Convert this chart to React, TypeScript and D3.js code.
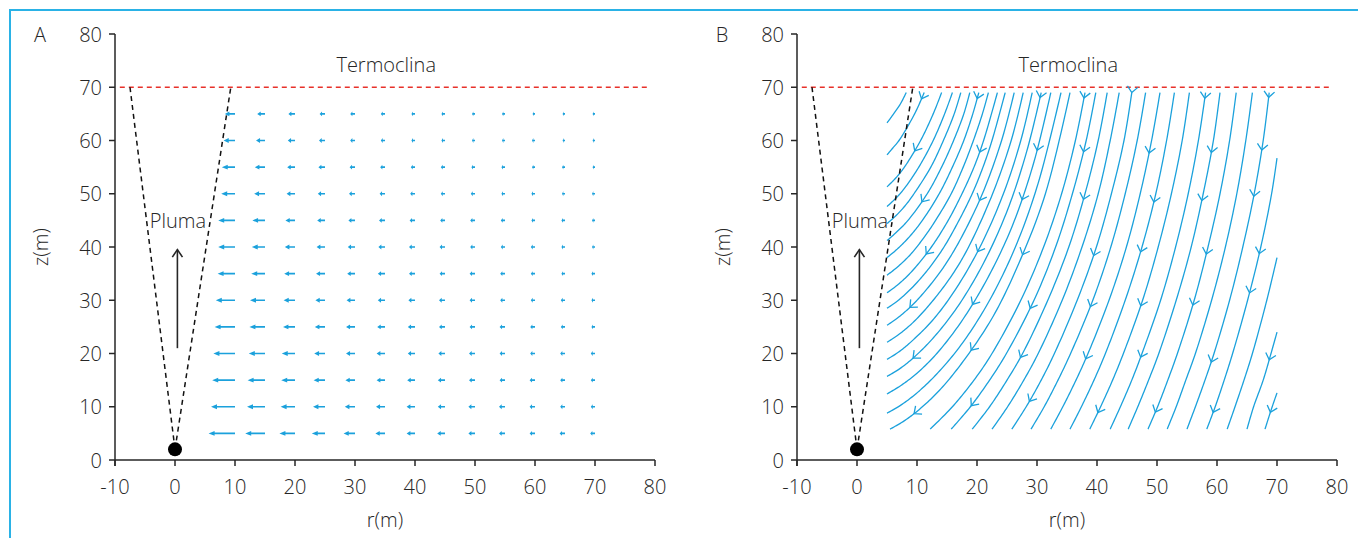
import React from 'react';
import * as d3 from 'd3';

// axes
const rTicks = [-10, 0, 10, 20, 30, 40, 50, 60, 70, 80];
const zTicks = [0, 10, 20, 30, 40, 50, 60, 70, 80];

// plume geometry (data units, r and z in m)
const thermoclineZ = 70;
const thermoclineExtent = [-9.2, 79.3];
const plumeSource: [number, number] = [0, 2];
const plumeEdgeTops: [number, number][] = [[-7.5, 70], [9.3, 70]];
const plumeArrow = { r: 0.4, zFrom: 21, zTo: 39.5 };

// panel A : horizontal entrainment velocity (arrow length in r units), tails at quiverR
const quiverR = [10, 15, 20, 25, 30, 35, 40, 45, 50, 55, 60, 65, 70];
const quiverZ = [5, 10, 15, 20, 25, 30, 35, 40, 45, 50, 55, 60, 65];
const quiverU = [
  [4.4, 3.3, 2.6, 2.2, 1.9, 1.6, 1.4, 1.3, 1.1, 1.0, 0.9, 0.9, 0.8],
  [4.0, 3.0, 2.4, 2.0, 1.7, 1.5, 1.4, 1.2, 1.1, 1.0, 0.9, 0.8, 0.7],
  [3.8, 2.9, 2.3, 1.9, 1.6, 1.4, 1.3, 1.2, 1.0, 0.9, 0.9, 0.8, 0.7],
  [3.6, 2.7, 2.2, 1.8, 1.5, 1.4, 1.2, 1.1, 1.0, 0.9, 0.8, 0.8, 0.7],
  [3.4, 2.6, 2.0, 1.7, 1.5, 1.3, 1.2, 1.0, 0.9, 0.9, 0.8, 0.7, 0.6],
  [3.2, 2.5, 1.9, 1.6, 1.4, 1.2, 1.1, 1.0, 0.9, 0.8, 0.7, 0.7, 0.6],
  [2.9, 2.3, 1.8, 1.5, 1.3, 1.2, 1.0, 0.9, 0.9, 0.8, 0.7, 0.6, 0.6],
  [2.8, 2.2, 1.7, 1.4, 1.2, 1.1, 1.0, 0.9, 0.8, 0.7, 0.7, 0.6, 0.5],
  [2.8, 2.1, 1.6, 1.3, 1.1, 1.0, 0.9, 0.8, 0.8, 0.7, 0.6, 0.6, 0.5],
  [2.3, 1.8, 1.4, 1.2, 1.0, 0.9, 0.8, 0.7, 0.7, 0.6, 0.6, 0.5, 0.5],
  [2.2, 1.7, 1.3, 1.1, 0.9, 0.8, 0.7, 0.7, 0.6, 0.6, 0.5, 0.5, 0.4],
  [1.9, 1.5, 1.2, 1.0, 0.8, 0.7, 0.6, 0.6, 0.5, 0.5, 0.5, 0.4, 0.4],
  [1.7, 1.3, 1.1, 0.9, 0.8, 0.7, 0.6, 0.6, 0.5, 0.5, 0.4, 0.4, 0.4],
];

// panel B : streamlines [r, z]
const streamlines: [number, number][][] = [
  [[5, 63.3], [6.1, 65], [7.3, 67], [8.2, 69]],
  [[5, 57.3], [5.9, 58.5], [7.0, 60], [9.6, 65], [11.2, 69]],
  [[5, 51.3], [6.5, 53], [7.9, 55], [10.6, 60], [12.7, 65], [14.1, 69]],
  [[5, 47.6], [6.6, 49.3], [7.9, 51], [10.3, 55], [12.7, 60], [14.6, 65], [15.9, 69]],
  [[5, 44.4], [6.6, 46], [8.2, 48], [9.5, 50], [12.3, 55], [14.4, 60], [16.2, 65], [17.3, 69]],
  [[5, 41.2], [6.6, 42.8], [8.5, 45], [11.7, 50], [14.1, 55], [16.1, 60], [17.8, 65], [18.8, 69]],
  [[5, 38], [6.7, 39.6], [8.8, 42], [10.9, 45], [13.7, 50], [15.9, 55], [17.8, 60], [19.3, 65], [20.3, 69]],
  [[5, 34.7], [6.8, 36.3], [9.0, 38.7], [11.3, 42], [13.1, 45], [15.7, 50], [17.7, 55], [19.4, 60], [20.9, 65], [21.9, 69]],
  [[5, 31.4], [6.9, 33], [9.2, 35.5], [12.4, 40], [15.2, 45], [17.5, 50], [19.5, 55], [21.1, 60], [23.4, 69]],
  [[5, 28.5], [6.9, 30], [9.3, 32.5], [12.0, 36], [14.5, 40], [17.0, 45], [19.2, 50], [21.0, 55], [22.5, 60], [24.7, 69]],
  [[5, 25.3], [6.9, 26.8], [9.4, 29.3], [12.3, 33], [14.9, 37], [17.5, 42], [20.9, 50], [24.1, 60], [26.2, 69]],
  [[5, 22.1], [7.0, 23.6], [9.5, 26], [12.7, 30], [16.0, 35], [18.6, 40], [22.6, 50], [25.7, 60], [27.7, 69]],
  [[5, 18.9], [7.1, 20.4], [9.6, 22.8], [12.8, 26.5], [16.4, 32], [20.5, 40], [24.4, 50], [27.3, 60], [29.2, 69]],
  [[5, 15.7], [7.2, 17.2], [9.8, 19.6], [13.0, 23.3], [16.9, 29], [21.1, 37], [25.1, 47], [28.3, 58], [30.7, 69]],
  [[5, 12.4], [7.2, 13.9], [10.0, 16.3], [13.3, 20], [17.4, 26], [21.7, 34], [25.9, 44], [29.5, 56], [32.3, 69]],
  [[5, 8.8], [7.3, 10.3], [10.1, 12.7], [13.5, 16.4], [17.6, 22], [22.1, 30], [26.4, 40], [30.2, 52], [34.0, 69]],
  [[5.5, 5.8], [7.8, 7.3], [10.6, 9.7], [14.0, 13.4], [18.0, 19], [22.7, 27], [27.0, 37], [31.4, 50], [35.5, 69]],
  [[12.2, 5.8], [15.9, 10], [19.5, 15], [22.5, 20], [27.3, 30], [31.1, 40], [34.1, 50], [36.4, 60], [38.0, 69]],
  [[15.7, 5.8], [18.9, 10], [22.1, 15], [24.9, 20], [29.5, 30], [33.1, 40], [35.9, 50], [38.2, 60], [39.8, 69]],
  [[19.2, 5.8], [22.1, 10], [25.0, 15], [27.6, 20], [31.8, 30], [35.3, 40], [38.0, 50], [40.2, 60], [41.7, 69]],
  [[22.5, 5.8], [25.1, 10], [27.8, 15], [30.2, 20], [34.2, 30], [37.5, 40], [40.2, 50], [42.2, 60], [43.7, 69]],
  [[25.8, 5.8], [28.2, 10], [30.7, 15], [32.9, 20], [36.7, 30], [39.9, 40], [42.4, 50], [44.5, 60], [45.8, 69]],
  [[29, 5.8], [31.2, 10], [33.5, 15], [35.6, 20], [39.3, 30], [42.3, 40], [44.7, 50], [46.7, 60], [48.1, 69]],
  [[32.3, 5.8], [34.3, 10], [36.5, 15], [38.5, 20], [42.0, 30], [44.9, 40], [47.2, 50], [49.1, 60], [50.5, 69]],
  [[35.5, 5.8], [37.4, 10], [39.5, 15], [41.4, 20], [44.7, 30], [47.5, 40], [49.8, 50], [51.6, 60], [52.9, 69]],
  [[38.8, 5.8], [40.6, 10], [42.6, 15], [44.4, 20], [47.6, 30], [50.2, 40], [52.4, 50], [54.2, 60], [55.4, 69]],
  [[42.2, 5.8], [43.9, 10], [45.8, 15], [47.5, 20], [50.6, 30], [53.1, 40], [55.2, 50], [56.9, 60], [58.1, 69]],
  [[45.2, 5.8], [46.8, 10], [48.6, 15], [50.3, 20], [53.2, 30], [55.7, 40], [57.7, 50], [59.4, 60], [60.5, 69]],
  [[48.5, 5.8], [50.1, 10], [51.8, 15], [53.4, 20], [56.2, 30], [58.5, 40], [60.5, 50], [62.1, 60], [63.2, 69]],
  [[51.7, 5.8], [53.2, 10], [54.8, 15], [56.4, 20], [59.1, 30], [61.4, 40], [63.3, 50], [64.8, 60], [65.9, 69]],
  [[55, 5.8], [56.4, 10], [58.0, 15], [59.5, 20], [62.1, 30], [64.3, 40], [66.2, 50], [67.7, 60], [68.7, 69]],
  [[58.3, 5.8], [59.7, 10], [61.2, 15], [62.6, 20], [65.1, 30], [67.3, 40], [69.1, 50], [70, 56.7]],
  [[61.7, 5.8], [63.0, 10], [64.5, 15], [65.9, 20], [68.3, 30], [70, 38]],
  [[65, 5.8], [66.1, 10], [67.7, 15], [69.0, 20], [70, 24]],
  [[68, 5.8], [69.2, 10], [70, 12.6]],
];

// arrowheads along the streamlines [r, z]
const streamArrows: [number, number][] = [
  [10.8, 67.8], [20.3, 67.8], [30.8, 68], [37.7, 68], [46.8, 69], [57.5, 68], [69.2, 68],
  [10, 57.8], [20.5, 57.8], [30.2, 58.1], [38, 57.8], [48, 57.8], [58.8, 57.8], [68, 58.1],
  [10.8, 48.5], [20.5, 48.7], [28, 48.7], [38.5, 48.7], [49.2, 48.5], [57.5, 48.7], [66.8, 49.4],
  [11.3, 38.9], [20.5, 38.9], [27.7, 38.5], [39.2, 38.5], [47.2, 39.1], [58.8, 38.5], [68, 38.5],
  [9.2, 28.2], [20, 28.7], [28.5, 28.7], [39.2, 28.7], [48, 28.7], [57.2, 28.7], [66.7, 31],
  [9.3, 19.2], [18.3, 21.2], [28, 18.8], [39.3, 18.4], [48.5, 18.8], [58, 18.8], [67.5, 19.2],
  [9.3, 9], [18.5, 10.7], [28.3, 11.3], [40, 9], [49.7, 9], [59.2, 9], [68.8, 9],
];

const W = 1358;
const H = 538;
const FONT = "'Open Sans', 'Noto Sans', sans-serif";
const FS = 20;
const INK = '#262626';
const BLUE = '#1ba1dc';

const zScale = d3.scaleLinear().domain([0, 80]).range([460, 34]);

// sample a catmull-rom curve into a dense polyline
function sampleCurve(pts: [number, number][]) {
  const out: [number, number][] = [];
  let cx = 0, cy = 0;
  const ctx: any = {
    moveTo(x: number, y: number) { out.push([x, y]); cx = x; cy = y; },
    lineTo(x: number, y: number) { out.push([x, y]); cx = x; cy = y; },
    bezierCurveTo(x1: number, y1: number, x2: number, y2: number, x: number, y: number) {
      for (let i = 1; i <= 14; i++) {
        const t = i / 14, m = 1 - t;
        out.push([
          m * m * m * cx + 3 * m * m * t * x1 + 3 * m * t * t * x2 + t * t * t * x,
          m * m * m * cy + 3 * m * m * t * y1 + 3 * m * t * t * y2 + t * t * t * y,
        ]);
      }
      cx = x; cy = y;
    },
    closePath() {},
  };
  d3.line().curve(d3.curveCatmullRom.alpha(0.5)).context(ctx)(pts);
  return out;
}

function chevron(px: number, py: number, dx: number, dy: number, len: number, ang: number) {
  const bx = -dx, by = -dy;
  const rot = (a: number) => [bx * Math.cos(a) - by * Math.sin(a), bx * Math.sin(a) + by * Math.cos(a)];
  const [ax, ay] = rot(ang);
  const [cx, cy] = rot(-ang);
  return `M${px + ax * len},${py + ay * len}L${px},${py}L${px + cx * len},${py + cy * len}`;
}

function Label(props: any) {
  return (
    <text dominantBaseline="central" fontSize={FS} fontFamily={FONT} fontWeight={300} fill={INK} {...props} />
  );
}

function Panel({ left, label, kind }: { left: number; label: string; kind: 'quiver' | 'stream' }) {
  const rScale = d3.scaleLinear().domain([-10, 80]).range([left, left + 540]);
  const y0 = zScale(0);

  const plume = (
    <g>
      {plumeEdgeTops.map((p, i) => (
        <line key={i} x1={rScale(plumeSource[0])} y1={zScale(plumeSource[1])} x2={rScale(p[0])} y2={zScale(p[1])}
          stroke="#111" strokeWidth={1.5} strokeDasharray="5,4" />
      ))}
      <circle cx={rScale(plumeSource[0])} cy={zScale(plumeSource[1])} r={7} fill="#000" />
      <line x1={rScale(plumeArrow.r)} y1={zScale(plumeArrow.zFrom)} x2={rScale(plumeArrow.r)} y2={zScale(plumeArrow.zTo)}
        stroke={INK} strokeWidth={1.6} />
      <path d={chevron(rScale(plumeArrow.r), zScale(plumeArrow.zTo), 0, -1, 9, 0.6)} fill="none" stroke={INK} strokeWidth={1.6} />
      <Label x={rScale(0.5)} y={zScale(45)} textAnchor="middle">Pluma</Label>
    </g>
  );

  let field: React.ReactNode = null;
  if (kind === 'quiver') {
    const arrows: React.ReactNode[] = [];
    quiverZ.forEach((z, i) => {
      quiverR.forEach((r, j) => {
        const x0 = rScale(r);
        const L = rScale(r) - rScale(r - quiverU[i][j]);
        const x1 = x0 - L;
        const y = zScale(z);
        const sw = 0.8, hl = Math.min(6, L * 0.45), hw = 2.4;
        const d = `M${x0},${y - sw}L${x1 + hl},${y - sw}L${x1 + hl},${y - hw}L${x1},${y}L${x1 + hl},${y + hw}L${x1 + hl},${y + sw}L${x0},${y + sw}Z`;
        arrows.push(<path key={`${i}-${j}`} d={d} fill={BLUE} />);
      });
    });
    field = <g>{arrows}</g>;
  } else {
    const lines = streamlines.map(l => sampleCurve(l.map(([r, z]) => [rScale(r), zScale(z)] as [number, number])));
    const heads = streamArrows.map(([r, z], k) => {
      const px = rScale(r), py = zScale(z);
      let best = Infinity, bx = px, by = py, dx = 0, dy = 1;
      lines.forEach(pl => {
        for (let i = 0; i < pl.length - 1; i++) {
          const [ax, ay] = pl[i], [cx, cy] = pl[i + 1];
          const vx = cx - ax, vy = cy - ay;
          const l2 = vx * vx + vy * vy || 1;
          let t = ((px - ax) * vx + (py - ay) * vy) / l2;
          t = Math.max(0, Math.min(1, t));
          const qx = ax + t * vx, qy = ay + t * vy;
          const dd = (qx - px) ** 2 + (qy - py) ** 2;
          if (dd < best) {
            best = dd; bx = qx; by = qy;
            const n = Math.sqrt(l2);
            // flow goes downward
            const s = vy >= 0 ? 1 : -1;
            dx = (s * vx) / n; dy = (s * vy) / n;
          }
        }
      });
      return <path key={k} d={chevron(bx, by, dx, dy, 8, 0.72)} fill="none" stroke={BLUE} strokeWidth={1.3} />;
    });
    const lineGen = d3.line();
    field = (
      <g>
        {lines.map((pl, i) => (
          <path key={i} d={lineGen(pl) || ''} fill="none" stroke={BLUE} strokeWidth={1.3} />
        ))}
        {heads}
      </g>
    );
  }

  return (
    <g>
      {/* thermocline */}
      <line x1={rScale(thermoclineExtent[0])} x2={rScale(thermoclineExtent[1])} y1={zScale(thermoclineZ)} y2={zScale(thermoclineZ)}
        stroke="#e8312a" strokeWidth={1.3} strokeDasharray="5,4" />
      <Label x={rScale(35.2)} y={zScale(74.2)} textAnchor="middle">Termoclina</Label>

      {field}
      {plume}

      {/* axes */}
      <line x1={rScale(-10)} x2={rScale(80)} y1={y0} y2={y0} stroke={INK} strokeWidth={1.5} />
      <line x1={left} x2={left} y1={zScale(80)} y2={y0 + 6} stroke={INK} strokeWidth={1.5} />
      {rTicks.map(t => (
        <g key={`r${t}`}>
          <line x1={rScale(t)} x2={rScale(t)} y1={y0} y2={y0 + 6} stroke={INK} strokeWidth={1.5} />
          <Label x={rScale(t)} y={y0 + 26} textAnchor="middle">{t}</Label>
        </g>
      ))}
      {zTicks.map(t => (
        <g key={`z${t}`}>
          <line x1={left - 6} x2={left} y1={zScale(t)} y2={zScale(t)} stroke={INK} strokeWidth={1.5} />
          <Label x={left - 13} y={zScale(t)} textAnchor="end">{t}</Label>
        </g>
      ))}
      <Label x={rScale(35)} y={519} textAnchor="middle">r(m)</Label>
      <Label transform={`translate(${left - 75},${zScale(40)}) rotate(-90)`} textAnchor="middle">z(m)</Label>
      <Label x={left - 75} y={zScale(80)} textAnchor="middle">{label}</Label>
    </g>
  );
}

export default function App() {
  return (
    <svg width={W} height={H} style={{ position: 'absolute', left: 0, top: 0, background: '#fff' }}>
      <rect x={0} y={0} width={W} height={H} fill="#fff" />
      <path d={`M10,${H}L10,10L${W},10`} fill="none" stroke="#2ab2e6" strokeWidth={2} />
      <Panel left={115} label="A" kind="quiver" />
      <Panel left={797} label="B" kind="stream" />
    </svg>
  );
}
